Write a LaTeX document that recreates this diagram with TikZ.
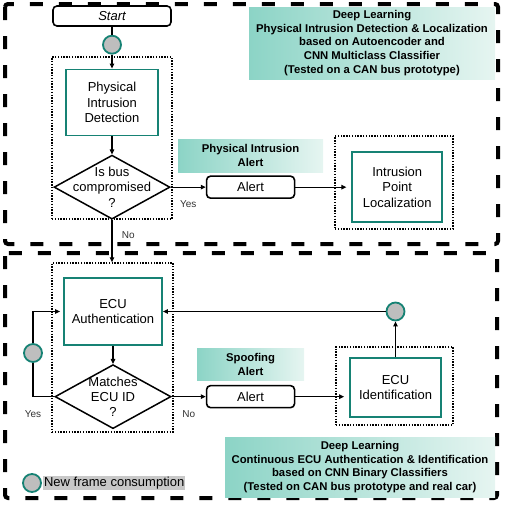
\documentclass[tikz,border=0pt]{standalone}
\usepackage{fontspec}
\setmainfont{Liberation Sans}
\usetikzlibrary{shapes.geometric,arrows.meta,positioning}
\definecolor{tealbox}{RGB}{22,130,116}
\definecolor{shadeL}{RGB}{140,212,198}
\definecolor{shadeR}{RGB}{230,245,241}
\definecolor{framegray}{RGB}{190,190,190}
\definecolor{legendgray}{RGB}{200,200,200}
\tikzset{
	zone/.style     = {draw=black,line width=4pt,
		dash pattern=on 13pt off 16pt,rounded corners=3pt},
	grp/.style      = {rectangle,draw=black,line width=1.3pt,
		dash pattern=on 1.4pt off 1.4pt,inner sep=0pt},
	stepbox/.style  = {rectangle,draw=tealbox,line width=1.8pt,
		fill=white,align=center,
		font=\fontsize{13}{15.3}\selectfont},
	decis/.style    = {diamond,draw=black,line width=1.5pt,fill=white,
		minimum width=116pt,minimum height=64pt,
		inner xsep=-30pt,inner ysep=-16pt,align=center,
		font=\fontsize{13}{15.3}\selectfont},
	alertb/.style   = {rectangle,rounded corners=4pt,draw=black,
		line width=1.6pt,fill=white,minimum width=88pt,
		minimum height=22pt,font=\fontsize{13}{15.3}\selectfont},
	shadelbl/.style = {rectangle,left color=shadeL,right color=shadeR,
		align=center,inner sep=0pt,
		font=\bfseries\fontsize{11.3}{13.7}\selectfont},
	newframe/.style = {circle,draw=tealbox,fill=framegray,
		line width=1.8pt,minimum size=18pt,inner sep=0pt},
	arr/.style      = {-{Triangle[length=5pt,width=4.5pt]},line width=1.1pt},
	lnk/.style      = {line width=1.1pt},
	yn/.style       = {font=\fontsize{10}{12}\selectfont,text=black!80},
}

\begin{document}
\begin{tikzpicture}[x=1pt,y=-1pt]
	\useasboundingbox (0,0) rectangle (504,506);
	
	\draw[zone] (5,4) rectangle (498,244);
	\draw[zone] (5,253) rectangle (497,498);
	
	%% physical intrusion detection
	\node (st) [alertb,minimum width=118pt,minimum height=20pt,
	font=\itshape\fontsize{13}{15.3}\selectfont] at (112,16) {Start};
	\node (f1) [newframe,below=8pt of st] {};
	\node (pid) [stepbox,minimum width=92pt,minimum height=66pt,
	below=14pt of f1] {Physical\\Intrusion\\Detection};
	\node (bus) [decis,below=18pt of pid] {Is bus\\compromised\\?};
	\node (al1) [alertb,right=35pt of bus] {Alert};
	\node (pal) [shadelbl,minimum width=145pt,minimum height=33pt,
	above=3pt of al1] {Physical Intrusion\\Alert};
	\node (ipl) [stepbox,minimum width=90pt,minimum height=70pt,
	right=56pt of al1] {Intrusion\\Point\\Localization};
	\node (g1) [grp,minimum width=120pt,minimum height=162pt] at (112,138) {};
	\node (g2) [grp,minimum width=118pt,minimum height=93pt] at (394,182.5) {};
	\node (dl1) [shadelbl,minimum width=246pt,minimum height=72pt] at (372,43)
	{Deep Learning\\Physical Intrusion Detection \& Localization\\
		based on Autoencoder and\\CNN Multiclass Classifier\\
		(Tested on a CAN bus prototype)};
	
	%% ECU authentication
	\node (auth) [stepbox,minimum width=98pt,minimum height=67pt]
	at (113,311.5) {ECU\\Authentication};
	\node (ecu) [decis,below=18pt of auth] {Matches\\ECU ID\\?};
	\node (al2) [alertb,right=34pt of ecu] {Alert};
	\node (spf) [shadelbl,minimum width=107pt,minimum height=32pt,
	above=4pt of al2] {Spoofing\\Alert};
	\node (eid) [stepbox,minimum width=91pt,minimum height=59pt]
	at (395.5,387.5) {ECU\\Identification};
	\node (g3) [grp,minimum width=121pt,minimum height=169pt] at (112.5,347.5) {};
	\node (g4) [grp,minimum width=117pt,minimum height=78pt] at (394.5,386) {};
	\node (f2) [newframe] at (eid.north |- auth.east) {};
	\node (f3) [newframe] at (33,353) {};
	\node (dl2) [shadelbl,minimum width=270pt,minimum height=60pt] at (360,467)
	{Deep Learning\\Continuous ECU Authentication \& Identification\\
		based on CNN Binary Classifiers\\
		(Tested on CAN bus prototype and real car)};
	
	%% legend
	\node (f4) [newframe] at (32,483) {};
	\node (lgd) [right=1pt of f4,fill=legendgray,inner sep=1pt,
	font=\fontsize{13}{15.3}\selectfont] {New frame consumption};
	
	\draw[lnk](st)--(f1);
	\draw[arr](f1)--(pid);
	\draw[arr](pid)--(bus);
	\draw[arr](bus)--(al1) node[yn,midway,below=10pt]{Yes};
	\draw[arr,shorten >=5pt](al1)--(ipl);
	\draw[arr](bus.south)--(bus.south |- g3.north)
	node[yn,pos=0.35,right=6pt]{No};
	
	\draw[arr](auth)--(ecu);
	\draw[lnk](ecu.west)-|(f3) node[yn,pos=0.5,below=10pt]{Yes};
	\draw[arr,shorten >=3pt](f3)|-(auth);
	\draw[arr](ecu)--(al2) node[yn,midway,below=10pt]{No};
	\draw[arr,shorten >=5pt](al2)--(al2 -| eid.west);
	\draw[arr](eid)--(f2);
	\draw[arr](f2)--(auth);
\end{tikzpicture}
\end{document}
